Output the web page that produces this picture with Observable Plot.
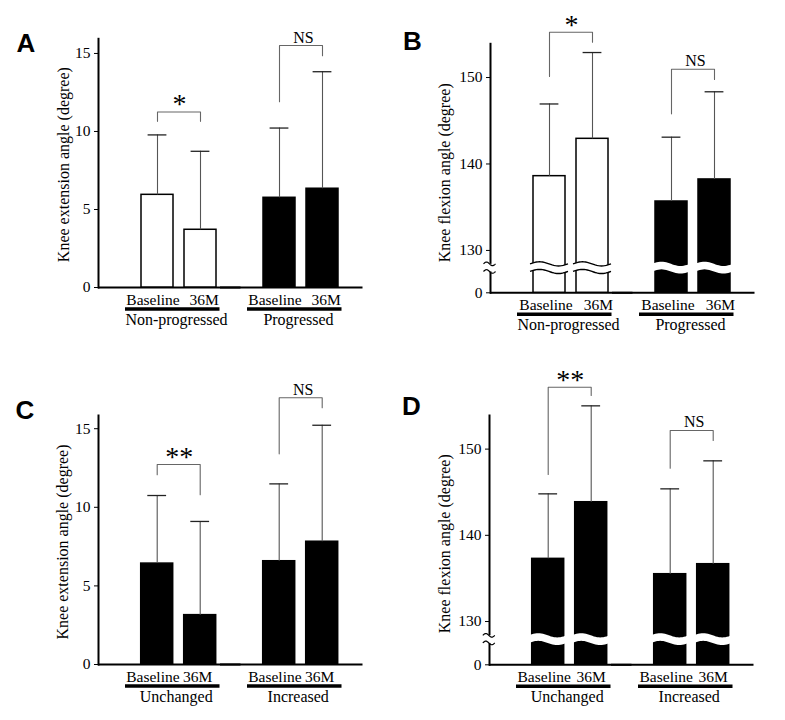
<!DOCTYPE html>
<html><head><meta charset="utf-8">
<script src="https://cdn.jsdelivr.net/npm/d3@7"></script>
<script src="https://cdn.jsdelivr.net/npm/@observablehq/plot@0.6"></script>
<style>
body{margin:0;background:#fff;}
#fig{position:relative;width:785px;height:720px;overflow:hidden;background:#fff;}
.panel{position:absolute;}
.panel text{font-family:"Liberation Serif","Times New Roman",serif;}
.letter{position:absolute;font-family:"Liberation Sans",Arial,sans-serif;font-weight:bold;font-size:26px;line-height:26px;color:#000;}
</style></head><body><div id="fig"></div>
<script>
// ---------- data ----------
const timepoints = ["Baseline", "36M"];
const groupsAB = ["Non-progressed", "Progressed"];
const groupsCD = ["Unchanged", "Increased"];
const yLabelExt = "Knee extension angle (degree)";
const yLabelFlex = "Knee flexion angle (degree)";

// Panel A (knee extension, non-progressed vs progressed)
const meanA = [5.94, 3.70, 5.75, 6.33];
const errTopA = [9.78, 8.73, 10.22, 13.83];
const yDomainA = [0, 15.94];
const yTicksA = [0, 5, 10, 15];
const yTickLabelsA = ["0", "5", "10", "15"];
const bracketLeftA = [10.65, 11.91];
const bracketTopA = [11.25, 15.51];
const bracketRightA = [10.65, 14.85];
const sigA = ["*", "NS"];
const hollowA = ["Non-progressed"];

// Panel B (knee flexion, broken axis)
const meanB = [138.59, 142.91, 135.66, 138.21];
const errTopB = [146.94, 152.89, 143.10, 148.35];
const yDomainB = [125.1, 153.9];
const yTicksB = [125.1, 130, 140, 150];
const yTickLabelsB = ["0", "130", "140", "150"];
const yBreakB = 127.95;
const bracketLeftB = [150.12, 145.80];
const bracketTopB = [155.24, 150.96];
const bracketRightB = [154.08, 149.77];
const sigB = ["*", "NS"];
const hollowB = ["Non-progressed"];

// Panel C (knee extension, unchanged vs increased)
const meanC = [6.42, 3.14, 6.57, 7.81];
const errTopC = [10.75, 9.10, 11.49, 15.22];
const yDomainC = [0, 15.84];
const yTicksC = [0, 5, 10, 15];
const yTickLabelsC = ["0", "5", "10", "15"];
const bracketLeftC = [12.07, 13.40];
const bracketTopC = [12.72, 16.97];
const bracketRightC = [10.80, 16.33];
const sigC = ["**", "NS"];
const hollowC = [];

// Panel D (knee flexion, broken axis)
const meanD = [137.27, 143.84, 135.49, 136.65];
const errTopD = [144.81, 155.02, 145.39, 148.64];
const yDomainD = [124.98, 153.9];
const yTicksD = [124.98, 130, 140, 150];
const yTickLabelsD = ["0", "130", "140", "150"];
const yBreakD = 127.9;
const bracketLeftD = [147.05, 147.78];
const bracketTopD = [157.18, 152.16];
const bracketRightD = [156.22, 151.0];
const sigD = ["**", "NS"];
const hollowD = [];

// ---------- layout ----------
const W = 392, H = 345, GROUP_STEP = 122.8;
const panels = [
  {letter: "A", left: 0, top: 0, lx: 16.5, ly: 30.3, groups: groupsAB, mean: meanA, errTop: errTopA, yDomain: yDomainA, yTicks: yTicksA, yTickLabels: yTickLabelsA, bLeft: bracketLeftA, bTop: bracketTopA, bRight: bracketRightA, sig: sigA, hollow: hollowA, yLabel: yLabelExt, yBreak: null,
   st: {ml: 98, mt: 38.3, base: 287, labelOffset: 41.1, labelDy: 1.5, dxBase: -4.5, dx36: 3.7}},
  {letter: "B", left: 392, top: 5, lx: 403, ly: 28, groups: groupsAB, mean: meanB, errTop: errTopB, yDomain: yDomainB, yTicks: yTicksB, yTickLabels: yTickLabelsB, bLeft: bracketLeftB, bTop: bracketTopB, bRight: bracketRightB, sig: sigB, hollow: hollowB, yLabel: yLabelFlex, yBreak: yBreakB,
   st: {ml: 98, mt: 38.3, base: 287.3, labelOffset: 51.4, labelDy: 4.5, dxBase: -3.5, dx36: 6}},
  {letter: "C", left: 0, top: 377, lx: 15.4, ly: 397.3, groups: groupsCD, mean: meanC, errTop: errTopC, yDomain: yDomainC, yTicks: yTicksC, yTickLabels: yTickLabelsC, bLeft: bracketLeftC, bTop: bracketTopC, bRight: bracketRightC, sig: sigC, hollow: hollowC, yLabel: yLabelExt, yBreak: null,
   st: {ml: 98.3, mt: 38, base: 287, labelOffset: 41.4, labelDy: 2, dxBase: -4.3, dx36: -2.5}},
  {letter: "D", left: 392, top: 377, lx: 402, ly: 393, groups: groupsCD, mean: meanD, errTop: errTopD, yDomain: yDomainD, yTicks: yTicksD, yTickLabels: yTickLabelsD, bLeft: bracketLeftD, bTop: bracketTopD, bRight: bracketRightD, sig: sigD, hollow: hollowD, yLabel: yLabelFlex, yBreak: yBreakD,
   st: {ml: 97.3, mt: 38, base: 287.3, labelOffset: 50.7, labelDy: 3.6, dxBase: -4, dx36: 0}}
];

const NS = "http://www.w3.org/2000/svg";
function wavePoints(x0, x1, c, amp, period) {
  const pts = [];
  const n = 24;
  for (let k = 0; k <= n; k++) {
    const x = x0 + (x1 - x0) * k / n;
    pts.push([x, c - amp * Math.sin(2 * Math.PI * (x - x0) / period)]);
  }
  return pts;
}
function pathOf(pts) { return "M" + pts.map(p => p[0].toFixed(2) + "," + p[1].toFixed(2)).join("L"); }

function addBreaks(svg, yBreak, ml) {
  const yc = svg.scale("y").apply(yBreak);
  const gap = 3.8, amp = 2.1, ext = 3;
  svg.querySelectorAll('g[aria-label="bar"] rect').forEach(r => {
    const x = +r.getAttribute("x"), w = +r.getAttribute("width");
    const hollow = r.getAttribute("fill") === "white";
    const x0 = x - ext, x1 = x + w + ext, period = x1 - x0;
    const top = wavePoints(x0, x1, yc - gap, amp, period);
    const bot = wavePoints(x0, x1, yc + gap, amp, period);
    const band = document.createElementNS(NS, "path");
    band.setAttribute("d", pathOf(top) + "L" + bot.slice().reverse().map(p => p[0].toFixed(2) + "," + p[1].toFixed(2)).join("L") + "Z");
    band.setAttribute("fill", "white");
    band.setAttribute("stroke", "none");
    r.parentNode.appendChild(band);
    if (hollow) {
      for (const pts of [top, bot]) {
        const p = document.createElementNS(NS, "path");
        p.setAttribute("d", pathOf(pts));
        p.setAttribute("fill", "none");
        p.setAttribute("stroke", "black");
        p.setAttribute("stroke-width", "1.4");
        r.parentNode.appendChild(p);
      }
    }
  });
  // axis break symbol
  const cover = document.createElementNS(NS, "rect");
  cover.setAttribute("x", ml - 4); cover.setAttribute("y", yc - gap);
  cover.setAttribute("width", 8); cover.setAttribute("height", 2 * gap);
  cover.setAttribute("fill", "white");
  svg.appendChild(cover);
  for (const c of [yc - gap, yc + gap]) {
    const p = document.createElementNS(NS, "path");
    p.setAttribute("d", pathOf(wavePoints(ml - 6.5, ml + 5.5, c, 1.8, 12)));
    p.setAttribute("fill", "none");
    p.setAttribute("stroke", "black");
    p.setAttribute("stroke-width", "1.2");
    svg.appendChild(p);
  }
}

const fig = document.getElementById("fig");
for (const p of panels) {
  const st = p.st;
  const base = p.yDomain[0];
  const rows = p.groups.flatMap((g, gi) => timepoints.map((t, ti) => ({group: g, time: t, mean: p.mean[gi * 2 + ti], top: p.errTop[gi * 2 + ti]})));
  const brackets = p.groups.flatMap((g, gi) => [
    {group: g, time: timepoints[0], v: p.bLeft[gi]},
    {group: g, time: timepoints[0], v: p.bTop[gi]},
    {group: g, time: timepoints[1], v: p.bTop[gi]},
    {group: g, time: timepoints[1], v: p.bRight[gi]}
  ]);
  const sigRows = p.groups.map((g, gi) => ({group: g, v: p.bTop[gi], label: p.sig[gi]}));
  const svg = Plot.plot({
    width: W, height: H,
    marginLeft: st.ml, marginRight: W - st.ml - 2 * GROUP_STEP,
    marginTop: st.mt, marginBottom: H - st.base,
    style: "font-family: 'Liberation Serif', 'Times New Roman', serif; font-size: 15.5px; overflow: visible; background: transparent; color: black;",
    fx: {domain: p.groups, axis: null, paddingInner: 0, paddingOuter: 0, align: 0},
    x: {domain: timepoints, axis: null, paddingInner: 0.25, paddingOuter: 0.5132, align: 0.9097},
    y: {domain: p.yDomain},
    marks: [
      Plot.frame({anchor: "left", facetAnchor: "left", strokeWidth: 2}),
      Plot.ruleY([base], {insetRight: -20.5, strokeWidth: 2}),
      Plot.axisY({ticks: p.yTicks, tickFormat: d => p.yTickLabels[p.yTicks.indexOf(d)], tickSize: 4, tickPadding: 4, label: null, fontSize: 15.5}),
      Plot.text([p.yLabel], {text: d => d, frameAnchor: "left", textAnchor: "middle", rotate: -90, lineAnchor: "top", dx: -st.labelOffset, dy: st.labelDy, fontSize: 16, facetAnchor: "left"}),
      Plot.barY(rows, {fx: "group", x: "time", y1: () => base, y2: "mean", fill: d => p.hollow.includes(d.group) ? "white" : "black", stroke: "black", strokeWidth: 1.5}),
      Plot.ruleX(rows, {fx: "group", x: "time", y1: "mean", y2: "top", stroke: "#555", strokeWidth: 1.1}),
      Plot.tickY(rows, {fx: "group", x: "time", y: "top", insetLeft: 6.6, insetRight: 6.6, stroke: "#222", strokeWidth: 1.3}),
      Plot.line(brackets, {fx: "group", x: "time", y: "v", z: "group", stroke: "#666", strokeWidth: 1.1}),
      Plot.text(sigRows, {filter: d => d.label !== "NS", fx: "group", x: () => timepoints[0], y: "v", text: "label", dx: 22.1, dy: 1.5, lineAnchor: "bottom", fontSize: 28}),
      Plot.text(sigRows, {filter: d => d.label === "NS", fx: "group", x: () => timepoints[0], y: "v", text: "label", dx: 24, dy: -3, lineAnchor: "bottom", fontSize: 16}),
      Plot.text(rows, {filter: d => d.time === timepoints[0], fx: "group", x: "time", text: "time", frameAnchor: "bottom", textAnchor: "middle", lineAnchor: "bottom", dy: 17.5, dx: st.dxBase, fontSize: 15.5}),
      Plot.text(rows, {filter: d => d.time === timepoints[1], fx: "group", x: "time", text: "time", frameAnchor: "bottom", textAnchor: "middle", lineAnchor: "bottom", dy: 17.5, dx: st.dx36, fontSize: 15.5}),
      Plot.ruleY(p.groups, {fx: d => d, y: () => base, dy: 21.5, insetLeft: 27, insetRight: 0.5, strokeWidth: 3.5}),
      Plot.text(p.groups, {fx: d => d, x: () => timepoints[0], text: d => d, frameAnchor: "bottom", textAnchor: "middle", lineAnchor: "bottom", dy: 37.5, dx: 19, fontSize: 16})
    ]
  });
  svg.classList.add("panel");
  svg.style.left = p.left + "px";
  svg.style.top = p.top + "px";
  svg.style.position = "absolute";
  fig.appendChild(svg);
  if (p.yBreak != null) addBreaks(svg, p.yBreak, st.ml);
  const L = document.createElement("div");
  L.className = "letter";
  L.textContent = p.letter;
  L.style.left = p.lx + "px";
  L.style.top = p.ly + "px";
  fig.appendChild(L);
}
</script></body></html>
